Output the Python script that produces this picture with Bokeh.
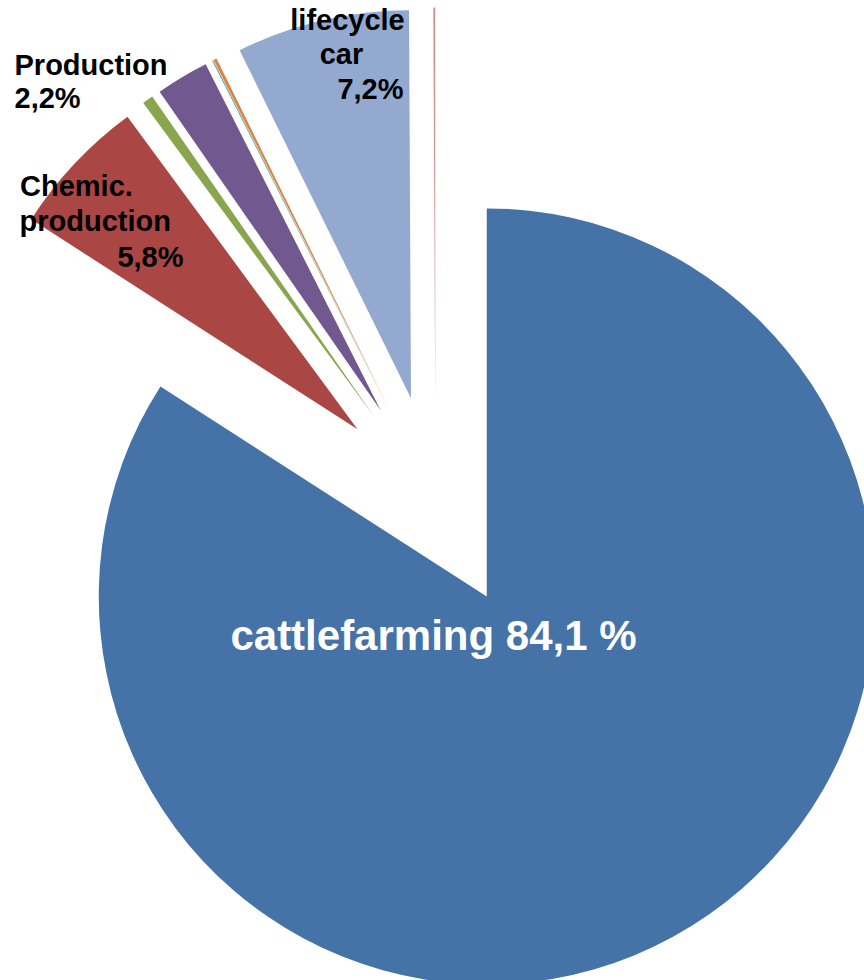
import math
from bokeh.plotting import figure
from bokeh.models import ColumnDataSource, Range1d
from bokeh.core.properties import value
from bokeh.embed import file_html
from bokeh.resources import INLINE

# ---------------- data ----------------
categories = ["cattlefarming", "Chemic. production", "Other A", "Production",
              "Other B", "Other C", "lifecycle car", "Other D"]
shares = [84.1, 5.8, 0.45, 2.2, 0.04, 0.13, 7.2, 0.08]
colors = ["#4572A7", "#AA4643", "#89A54E", "#71588F",
          "#4198AF", "#DB843D", "#93A9CF", "#D19392"]

# label lines
label_texts = ["cattlefarming 84,1 %",
               "Chemic.", "production", "5,8%",
               "Production", "2,2%",
               "lifecycle", "car", "7,2%"]

# ---------------- layout (page pixel coordinates) ----------------
W, H = 864, 980
CX, CY = 435.0, 502.0    # pie centre (px)
R = 388.0                # pie radius (px)
EXPLODE = 107.0          # explosion distance (px)
BASELINE_FIX = 0.4       # svg baseline correction (fraction of font size)

# label positions: x, baseline y (px), alignment, font size px, colour
label_layout = [
    (433, 652, "center", 42, "white"),
    (19.5, 197, "left", 29, "black"),
    (19, 232, "left", 29, "black"),
    (183, 268, "right", 29, "black"),
    (14, 76, "left", 29, "black"),
    (14, 109, "left", 29, "black"),
    (347, 31, "center", 29, "black"),
    (341, 65.5, "center", 29, "black"),
    (403, 100.5, "right", 29, "black"),
]

# ---------------- geometry from data ----------------
total = sum(shares)
starts, ends, xs, ys = [], [], [], []
cum = 0.0
for s in shares:
    a0 = cum / total * 2 * math.pi          # clockwise from 12 o'clock
    cum += s
    a1 = cum / total * 2 * math.pi
    mid = (a0 + a1) / 2
    starts.append(math.pi / 2 - a0)
    ends.append(math.pi / 2 - a1)
    xs.append(CX + EXPLODE * math.sin(mid))
    ys.append(-(CY - EXPLODE * math.cos(mid)))

src = ColumnDataSource(dict(x=xs, y=ys, start=starts, end=ends,
                            color=colors, cat=categories, share=shares))

p = figure(width=W, height=H, output_backend="svg", toolbar_location=None,
           x_range=Range1d(0, W), y_range=Range1d(-H, 0),
           x_axis_location=None, y_axis_location=None, min_border=0,
           title=None)
p.outline_line_color = None
p.grid.visible = False
p.background_fill_color = "white"
p.border_fill_color = "white"

p.wedge(x="x", y="y", radius=R, start_angle="start", end_angle="end",
        direction="clock", fill_color="color", line_color=None, source=src)

for (txt, (lx, ly, al, fs, col)) in zip(label_texts, label_layout):
    p.text(x=[lx], y=[-(ly - BASELINE_FIX * fs)], text=[txt], text_align=al,
           text_baseline="alphabetic", text_font=value("Liberation Sans"),
           text_font_style="bold", text_font_size=f"{fs}px", text_color=col)

open("out.html", "w").write(file_html(p, INLINE))
